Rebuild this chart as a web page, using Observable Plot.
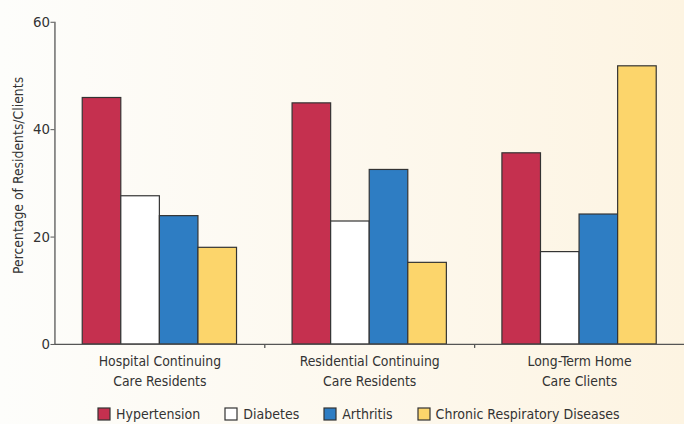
<!DOCTYPE html>
<html>
<head>
<meta charset="utf-8">
<script src="https://cdn.jsdelivr.net/npm/d3@7"></script>
<script src="https://cdn.jsdelivr.net/npm/@observablehq/plot@0.6"></script>
<style>
  html, body {
    margin: 0;
    padding: 0;
    width: 684px;
    height: 424px;
    overflow: hidden;
    background: linear-gradient(to right, #fdfdfb, #fdf4e2);
  }
  #chart {
    font-family: "Liberation Sans Narrow", "Arial Narrow", "DejaVu Sans Condensed", sans-serif;
    color: #333;
  }
  #chart svg { display: block; background: none; }
  #chart .lg-swatches {
    font-family: "Liberation Sans Narrow", "Arial Narrow", "DejaVu Sans Condensed", sans-serif !important;
    font-size: 14px !important;
    color: #333;
    margin: 0 !important;
    padding-left: 98px;
    position: relative;
    top: 2px;
    flex-wrap: nowrap !important;
  }
  #chart .lg-swatch { margin-right: 25px !important; }
  #chart .lg-swatch > svg { margin-right: 6px !important; }
  #chart .lg-swatch rect { stroke: #333; stroke-width: 1.2; }
</style>
</head>
<body>
<div id="chart"></div>
<script>
// Share of residents/clients with each chronic condition, by care setting
const groups = [
  "Hospital Continuing\nCare Residents",
  "Residential Continuing\nCare Residents",
  "Long-Term Home\nCare Clients"
];
const series = ["Hypertension", "Diabetes", "Arthritis", "Chronic Respiratory Diseases"];
const hypertension = [45.9, 44.9, 35.6];
const diabetes = [27.6, 22.9, 17.2];
const arthritis = [23.9, 32.5, 24.2];
const chronicRespiratory = [18.0, 15.2, 51.8];
const colors = ["#c5304f", "#ffffff", "#2e7dc3", "#fcd56b"];
const yTicks = [0, 20, 40, 60];
const yLabel = "Percentage of Residents/Clients";

const values = [hypertension, diabetes, arthritis, chronicRespiratory];
const rows = series.flatMap((s, i) =>
  groups.map((g, j) => ({group: g, series: s, value: values[i][j]}))
);

const width = 691, height = 400;
const marginLeft = 55, marginRight = 0, marginTop = 22, marginBottom = 52.5;
const step = (width - marginLeft - marginRight) / groups.length;

// bars sit side by side inside each group band
const inner = d3.scaleBand(series, [0, step]).paddingInner(0).paddingOuter(0.72);

const ink = "#333";
const axisInk = "#555";

const chart = Plot.plot({
  width, height, marginLeft, marginRight, marginTop, marginBottom,
  style: {fontFamily: "'Liberation Sans Narrow', 'Arial Narrow', 'DejaVu Sans Condensed', sans-serif", color: ink, background: "none"},
  x: {domain: groups, padding: 0, axis: null},
  y: {domain: [0, 60], axis: null},
  color: {domain: series, range: colors},
  marks: [
    ...series.map(s => Plot.barY(rows.filter(d => d.series === s), {
      x: "group", y: "value", fill: "series",
      stroke: ink, strokeWidth: 1.2,
      insetLeft: inner(s), insetRight: step - inner(s) - inner.bandwidth()
    })),
    Plot.ruleY([0], {stroke: axisInk, strokeWidth: 1.3}),
    Plot.frame({anchor: "left", stroke: axisInk, strokeWidth: 1.3}),
    Plot.axisY({ticks: yTicks, tickSize: 4, tickPadding: 1, fontSize: 15, stroke: axisInk, fill: ink, label: null}),
    Plot.axisX({tickSize: 0, tickPadding: 8, fontSize: 14, lineHeight: 1.43, fill: ink, label: null}),
    Plot.axisX(groups.slice(1), {tickSize: 4, fill: "none", stroke: axisInk, strokeWidth: 1.3, dx: -step / 2, label: null}),
    Plot.text([yLabel], {
      frameAnchor: "left", rotate: -90, textAnchor: "middle",
      dx: -36.5, dy: -8, fontSize: 14, fill: ink
    })
  ]
});

const legend = chart.legend("color", {className: "lg", swatchSize: 12});
const root = document.getElementById("chart");
root.append(chart);
root.append(legend);
</script>
</body>
</html>
